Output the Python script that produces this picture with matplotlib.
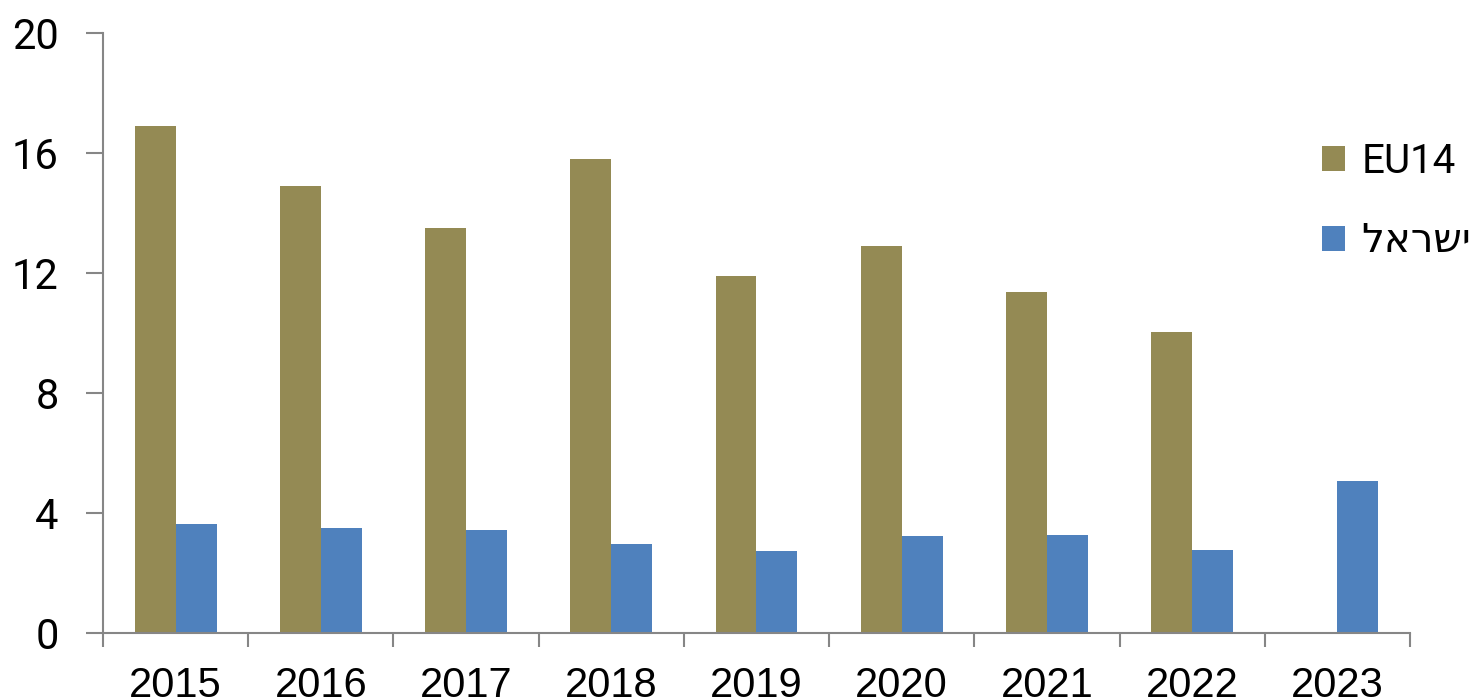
import matplotlib.pyplot as plt
import matplotlib
import numpy as np

matplotlib.rcParams['font.family'] = ['Roboto', 'DejaVu Sans']

years = ['2015', '2016', '2017', '2018', '2019', '2020', '2021', '2022', '2023']
eu14 = [16.9, 14.9, 13.5, 15.8, 11.9, 12.9, 11.37, 10.03, np.nan]
israel = [3.63, 3.5, 3.43, 2.97, 2.73, 3.23, 3.27, 2.77, 5.07]
# hebrew label, written in visual order since matplotlib has no bidi
israel_label = 'ישראל'[::-1]

fig = plt.figure(figsize=(14.75, 7), dpi=100)
ax = fig.add_axes([103/1475, 67/700, (1410-103)/1475, 600/700])

x = np.arange(len(years))
w = 0.282
ax.bar(x - w/2, eu14, width=w, color='#948A54', label='EU14')
ax.bar(x + w/2, israel, width=w, color='#4F81BD', label=israel_label)

ax.set_xlim(-0.5, len(years) - 0.5)
ax.set_ylim(0, 20)
ax.set_yticks([0, 4, 8, 12, 16, 20])

for s in ['top', 'right']:
    ax.spines[s].set_visible(False)
for s in ['left', 'bottom']:
    ax.spines[s].set_color('#868686')
    ax.spines[s].set_linewidth(1.5)

# x ticks sit on category boundaries, labels in the middle
ax.set_xticks(np.arange(len(years) + 1) - 0.5)
ax.set_xticklabels([])
ax.set_xticks(x, minor=True)
ax.set_xticklabels(years, minor=True, family='Liberation Sans', fontsize=30)
ax.tick_params(axis='x', which='major', length=10, width=1.5, color='#868686')
ax.tick_params(axis='x', which='minor', length=0, pad=24)
ax.tick_params(axis='y', length=12, width=1.5, color='#868686', labelsize=30, pad=20)

ax.legend(frameon=False, fontsize=29, loc='upper left',
          bbox_to_anchor=(1322/1475, 1 - 142/700), bbox_transform=fig.transFigure,
          borderpad=0, borderaxespad=0,
          handlelength=0.58, handleheight=0.58, handletextpad=0.4, labelspacing=1.0)

fig.savefig('out.png', dpi=100)
